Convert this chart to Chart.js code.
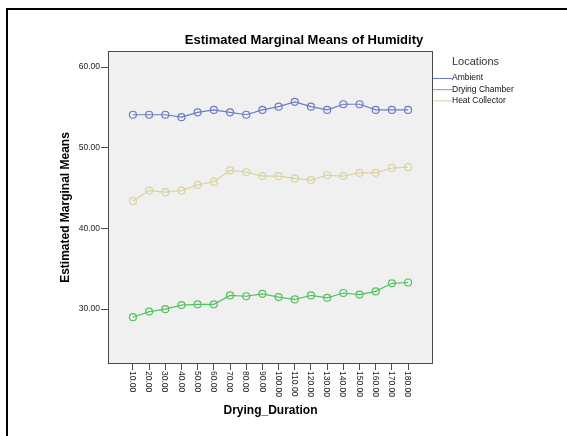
<!DOCTYPE html>
<html>
<head>
<meta charset="utf-8">
<script src="https://cdn.jsdelivr.net/npm/chart.js@4/dist/chart.umd.min.js"></script>
<style>
  html, body { margin: 0; padding: 0; background: #fff; }
  #wrap { width: 567px; height: 436px; }
</style>
</head>
<body>
<div id="wrap"><canvas id="humidity-chart" width="567" height="436"></canvas></div>
<script>
// drying durations (x categories)
const durations = [10, 20, 30, 40, 50, 60, 70, 80, 90, 100, 110, 120, 130, 140, 150, 160, 170, 180];
const yTicks = [30, 40, 50, 60];

const ambient       = [54.1, 54.1, 54.1, 53.8, 54.4, 54.7, 54.4, 54.1, 54.7, 55.1, 55.7, 55.1, 54.7, 55.4, 55.4, 54.7, 54.7, 54.7];
const dryingChamber = [29.0, 29.7, 30.0, 30.5, 30.6, 30.6, 31.7, 31.6, 31.9, 31.5, 31.2, 31.7, 31.4, 32.0, 31.8, 32.2, 33.2, 33.3];
const heatCollector = [43.4, 44.7, 44.5, 44.7, 45.4, 45.8, 47.2, 47.0, 46.5, 46.5, 46.2, 46.0, 46.6, 46.5, 46.9, 46.9, 47.5, 47.6];

const toPoints = arr => arr.map((v, i) => ({ x: durations[i], y: v }));

function series(label, values, color) {
    return {
        label: label,
        data: toPoints(values),
        borderColor: color,
        backgroundColor: 'rgba(0,0,0,0)',
        borderWidth: 1.2,
        pointRadius: 3.5,
        pointBorderWidth: 1.2,
        pointBackgroundColor: 'rgba(255,255,255,0)',
        pointBorderColor: color,
        tension: 0
    };
}

const humidityData = {
    datasets: [
        series('Ambient', ambient, '#6a7dc4'),
        series('Drying Chamber', dryingChamber, '#52c25f'),
        series('Heat Collector', heatCollector, '#d8d3a0'),
    ]
};

// plot frame, titles, legend and rotated x labels
const spssLook = {
    id: 'spssLook',
    beforeDraw(chart) {
        const ctx = chart.ctx, a = chart.chartArea;
        ctx.save();
        ctx.fillStyle = '#f0f0f0';
        ctx.fillRect(a.left, a.top, a.right - a.left, a.bottom - a.top);
        // outer frame (cropped at right / bottom)
        ctx.strokeStyle = '#000';
        ctx.lineWidth = 2;
        ctx.strokeRect(7, 9, 600, 500);
        ctx.restore();
    },
    afterDraw(chart) {
        const ctx = chart.ctx, a = chart.chartArea;
        const xs = chart.scales.x;
        ctx.save();
        ctx.strokeStyle = '#4a4a4a';
        ctx.lineWidth = 1;
        ctx.strokeRect(a.left + 0.5, a.top + 0.5, a.right - a.left - 1, a.bottom - a.top - 1);

        // title
        ctx.fillStyle = '#000';
        ctx.font = 'bold 13px Arial, "Liberation Sans", sans-serif';
        ctx.textAlign = 'center';
        ctx.textBaseline = 'middle';
        ctx.fillText('Estimated Marginal Means of Humidity', 304, 40);

        // axis titles
        ctx.font = 'bold 12px Arial, "Liberation Sans", sans-serif';
        ctx.fillText('Drying_Duration', (a.left + a.right) / 2, 411);
        ctx.save();
        ctx.translate(66, (a.top + a.bottom) / 2);
        ctx.rotate(-Math.PI / 2);
        ctx.fillText('Estimated Marginal Means', 0, 0);
        ctx.restore();

        // x tick labels, read top to bottom
        ctx.font = '8.5px Arial, "Liberation Sans", sans-serif';
        ctx.fillStyle = '#222';
        ctx.textAlign = 'left';
        ctx.textBaseline = 'middle';
        durations.forEach(d => {
            const px = xs.getPixelForValue(d);
            ctx.save();
            ctx.translate(px - 0.5, a.bottom + 7);
            ctx.rotate(Math.PI / 2);
            ctx.fillText(d.toFixed(2), 0, 0);
            ctx.restore();
        });

        // legend
        ctx.fillStyle = '#333';
        ctx.font = '11px Arial, "Liberation Sans", sans-serif';
        ctx.textAlign = 'left';
        ctx.fillText('Locations', 452, 62);
        ctx.font = '8.5px Arial, "Liberation Sans", sans-serif';
        chart.data.datasets.forEach((ds, i) => {
            const y = 78 + i * 11.2;
            ctx.strokeStyle = ds.borderColor;
            ctx.beginPath();
            ctx.moveTo(433, y + 0.5);
            ctx.lineTo(452, y + 0.5);
            ctx.stroke();
            ctx.fillStyle = '#111';
            ctx.fillText(ds.label, 452, y);
        });
        ctx.restore();
    }
};

const humidityConfig = {
    type: 'line',
    data: humidityData,
    options: {
        responsive: false,
        animation: false,
        layout: { padding: { left: 0, top: 51, right: 134, bottom: 0 } },
        plugins: {
            legend: { display: false },
            title: { display: false },
            tooltip: { enabled: false }
        },
        scales: {
            x: {
                type: 'linear',
                min: -5.4,
                max: 195.4,
                afterBuildTicks: s => { s.ticks = durations.map(v => ({ value: v })); },
                afterFit: s => { s.height = 72; },
                ticks: { display: false },
                grid: { drawOnChartArea: false, drawTicks: true, tickLength: 6, color: '#4a4a4a' },
                border: { display: false }
            },
            y: {
                min: 23.2,
                max: 62,
                afterBuildTicks: s => { s.ticks = yTicks.map(v => ({ value: v })); },
                afterFit: s => { s.width = 108; },
                ticks: {
                    padding: 1,
                    color: '#222',
                    font: { family: 'Arial, "Liberation Sans", sans-serif', size: 8.5 },
                    callback: v => Number(v).toFixed(2)
                },
                grid: { drawOnChartArea: false, drawTicks: true, tickLength: 7, color: '#4a4a4a' },
                border: { display: false }
            }
        }
    },
    plugins: [spssLook]
};

const humidityChart = new Chart(
    document.getElementById('humidity-chart'),
    humidityConfig
);
</script>
</body>
</html>
